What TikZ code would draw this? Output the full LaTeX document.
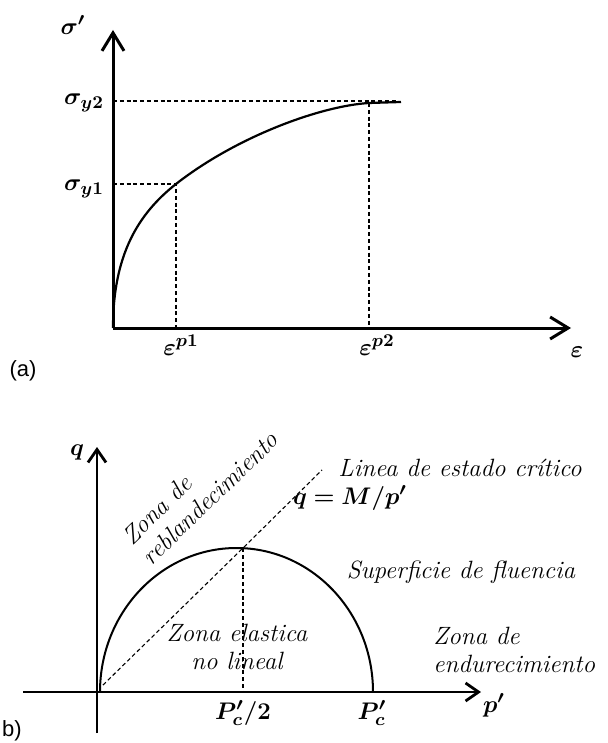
\documentclass[tikz,border=0pt]{standalone}
\usepackage{fontspec}
\usepackage{amsmath,amssymb}
\usepackage{bm}
\usepackage{tikz}
\usetikzlibrary{arrows.meta}
\newfontfamily\tagfont{Liberation Sans}

\begin{document}
\begin{tikzpicture}[x=0.5pt,y=-0.5pt,font=\fontsize{12.5}{15}\selectfont,
  ax/.style={line width=1.5pt,-{Straight Barb[length=9pt,width=11pt]}},
  axb/.style={line width=1.4pt,-{Straight Barb[length=6.5pt,width=9pt]}},
  crv/.style={line width=1.1pt},
  dsh/.style={line width=0.55pt,dash pattern=on 2pt off 1.4pt},
  zone/.style={font=\fontsize{12.5}{14}\selectfont\itshape,align=left,inner sep=0pt},
  tag/.style={font=\tagfont\fontsize{11}{13}\selectfont}]
\useasboundingbox (0,0) rectangle (608,743);
% --- (a): hardening curve ---
\coordinate (oa) at (113,328);
\coordinate (ya) at (113,30);
\coordinate (xa) at (571,328);
\coordinate (k1) at (176,184);
\coordinate (k2) at (369,103);
\draw[ax] (oa)--(ya);
\draw[ax] (oa)--(xa);
\draw[crv] (oa) .. controls (113,255) and (138,214) .. (k1)
  .. controls (236,137) and (320,106) .. (k2) -- (401,102);
\draw[dsh] (113,184)--(k1)--(176,328);
\draw[dsh] (113,101)--(396,101);
\draw[dsh] (k2)--(369,328);
\node (sig) at (73,25) {$\bm{\sigma'}$};
\node[anchor=east] (sy2) at (111,103) {$\bm{\sigma_{y2}}$};
\node[anchor=east] (sy1) at (111,189) {$\bm{\sigma_{y1}}$};
\node (ep1) at (181,345) {$\bm{\varepsilon^{p1}}$};
\node (ep2) at (377,345) {$\bm{\varepsilon^{p2}}$};
\node (eps) at (577,352) {$\bm{\varepsilon}$};
\node[tag] (ta) at (23,371) {(a)};
% --- (b): yield surface in p'-q ---
\coordinate (ob) at (97,692);
\coordinate (yb) at (97,447);
\coordinate (yb0) at (97,733);
\coordinate (xb) at (481,692);
\coordinate (xb0) at (23,692);
\coordinate (pk) at (243,548);
\coordinate (cs) at (322,470);
\draw[axb] (yb0)--(yb);
\draw[axb] (xb0)--(xb);
\draw[crv,line width=1pt] (100,692) arc[start angle=180,end angle=0,x radius=136.5,y radius=-144];
\draw[dsh] (103,685)--(pk)--(cs);
\draw[dsh] (pk)--(243,692);
\node (q) at (77,452) {$\bm{q}$};
\node (pp) at (494,705) {$\bm{p'}$};
\node (pc2) at (243,713) {$\bm{P'_{c}/2}$};
\node (pc) at (372,713) {$\bm{P'_{c}}$};
\node[zone] (cst) at (460,468) {Linea de estado crítico};
\node (eq) at (350,498) {$\bm{q = M/p'}$};
\node[zone] (yld) at (461,572) {Superficie de fluencia};
\node[zone,anchor=west] (zh) at (433,650) {Zona de\\endurecimiento};
\node[zone,align=center] (ze) at (237,647) {Zona elastica\\no lineal};
\node[zone,rotate=44] (zs) at (200,488) {Zona de\\reblandecimiento};
\node[tag] (tb) at (12,731) {b)};
\end{tikzpicture}
\end{document}
